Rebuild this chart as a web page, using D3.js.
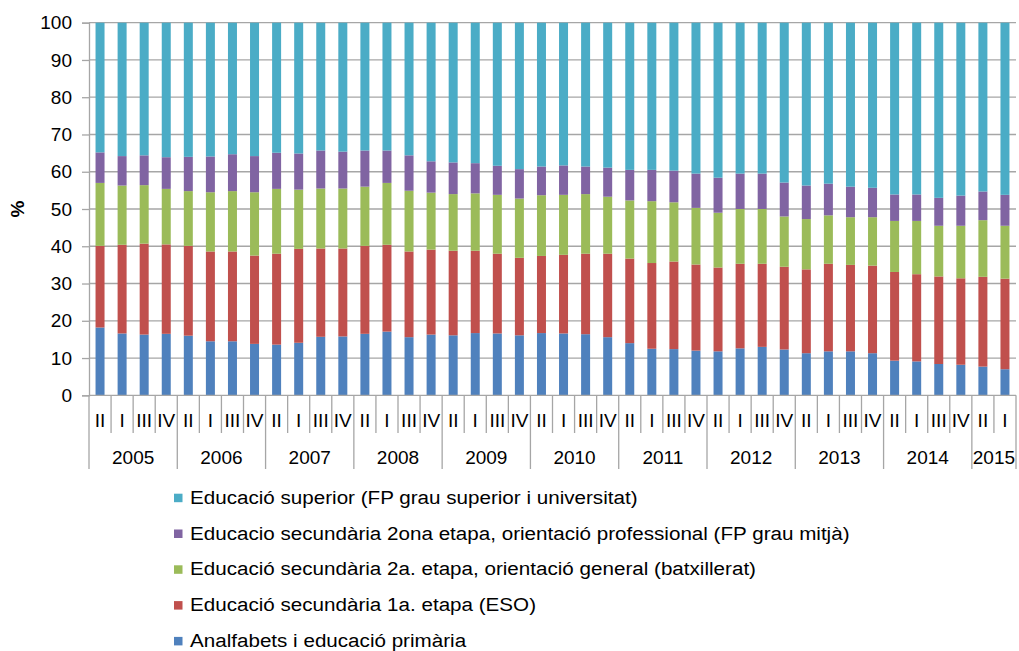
<!DOCTYPE html>
<html>
<head>
<meta charset="utf-8">
<script src="https://cdn.jsdelivr.net/npm/d3@7"></script>
<style>
  body { margin: 0; background: #fff; }
  svg { font-family: "Liberation Sans", Arial, sans-serif; }
</style>
</head>
<body>
<div id="chart"></div>
<script>
// categories (quarter labels as printed, grouped by year)
const years = ["2005","2006","2007","2008","2009","2010","2011","2012","2013","2014","2015"];
const quartersPerYear = [
  ["II","I","III","IV"],["II","I","III","IV"],["II","I","III","IV"],["II","I","III","IV"],
  ["II","I","III","IV"],["II","I","III","IV"],["II","I","III","IV"],["II","I","III","IV"],
  ["II","I","III","IV"],["II","I","III","IV"],["II","I"]
];
const yTicks = [0,10,20,30,40,50,60,70,80,90,100];

// series values (%), stacked bottom to top
const primaria = [18.2,16.6,16.3,16.5,16.0,14.5,14.5,13.8,13.6,14.1,15.7,15.8,16.5,17.1,15.6,16.3,16.1,16.7,16.6,16.1,16.7,16.6,16.4,15.6,14.0,12.5,12.4,12.0,11.8,12.6,13.0,12.3,11.3,11.8,11.8,11.3,9.3,9.1,8.4,8.2,7.7,7.0];
const eso = [21.9,23.8,24.4,24.0,24.1,24.1,24.1,23.7,24.4,25.2,23.7,23.6,23.6,23.3,23.0,22.8,22.7,22.1,21.4,20.8,20.7,21.1,21.6,22.4,22.7,23.0,23.5,23.1,22.5,22.7,22.3,22.2,22.5,23.5,23.2,23.5,23.8,23.4,23.5,23.2,24.1,24.3];
const batxillerat = [16.9,15.9,15.7,14.9,14.7,15.9,16.2,17.0,17.4,15.9,16.1,16.1,15.9,16.6,16.3,15.3,15.2,15.4,15.8,15.9,16.3,16.1,16.0,15.3,15.6,16.6,15.9,15.2,14.7,14.7,14.7,13.5,13.5,13.0,12.8,13.0,13.7,14.3,13.6,14.1,15.2,14.2];
const fpMitja = [8.2,7.9,8.0,8.5,9.2,9.6,9.9,9.7,9.7,9.7,10.2,9.9,9.7,8.7,9.5,8.4,8.5,8.1,7.8,7.9,7.7,7.9,7.4,7.8,8.2,8.4,8.5,9.2,9.4,9.5,9.5,9.1,9.0,8.5,8.2,7.9,7.1,7.1,7.5,8.1,7.7,8.3];
const superior = [34.8,35.8,35.6,36.1,36.0,35.9,35.3,35.8,34.9,35.1,34.3,34.6,34.3,34.3,35.6,37.2,37.5,37.7,38.4,39.3,38.6,38.3,38.6,38.9,39.5,39.5,39.7,40.5,41.6,40.5,40.5,42.9,43.7,43.2,44.0,44.3,46.1,46.1,47.0,46.4,45.3,46.2];

const seriesNames = [
  "Analfabets i educació primària",
  "Educació secundària 1a. etapa (ESO)",
  "Educació secundària 2a. etapa, orientació general (batxillerat)",
  "Educacio secundària 2ona etapa, orientació professional (FP grau mitjà)",
  "Educació superior (FP grau superior i universitat)"
];
const seriesColors = ["#4F81BD","#C0504D","#9BBB59","#8064A2","#4BACC6"];

// build rows for d3.stack
const cats = [];
years.forEach((y, yi) => quartersPerYear[yi].forEach(q => cats.push({year: y, q: q, id: y + "-" + q})));
const seriesData = [primaria, eso, batxillerat, fpMitja, superior];
const rows = cats.map((c, i) => {
  let r = {id: c.id};
  seriesData.forEach((s, k) => { r["s" + k] = s[i]; });
  return r;
});
const keys = seriesData.map((s, k) => "s" + k);

var W = 1019, H = 651;
var plot = {left: 89, right: 1016, top: 22.7, bottom: 395.3};

const svg = d3.select("#chart").append("svg")
  .attr("width", W).attr("height", H);

var x = d3.scaleBand()
  .domain(cats.map(d => d.id))
  .range([plot.left, plot.right])
  .paddingInner(0).paddingOuter(0);
var y = d3.scaleLinear()
  .domain([0, 100])
  .range([plot.bottom, plot.top]);

const gridColor = "#a6a6a6";

// gridlines
svg.append("g").selectAll("line")
  .data(yTicks.filter(t => t > 0))
  .enter().append("line")
  .attr("x1", plot.left).attr("x2", plot.right)
  .attr("y1", d => y(d)).attr("y2", d => y(d))
  .attr("stroke", gridColor).attr("stroke-width", 1.3);

// Y axis
const yAxis = svg.append("g")
  .attr("transform", `translate(${plot.left},0)`)
  .call(d3.axisLeft(y).tickValues(yTicks).tickSize(7).tickPadding(10).tickFormat(d3.format("d")));
yAxis.select(".domain").attr("stroke", gridColor).attr("stroke-width", 1.3);
yAxis.selectAll(".tick line").attr("stroke", gridColor).attr("stroke-width", 1.3);
yAxis.selectAll(".tick text").attr("font-size", 19).attr("fill", "#000")
  .attr("font-family", "'Liberation Sans', Arial, sans-serif");

svg.append("text")
  .attr("transform", `translate(24,${(plot.top + plot.bottom) / 2}) rotate(-90)`)
  .attr("text-anchor", "middle")
  .attr("font-size", 19).attr("font-weight", "bold")
  .text("%");

// bars
const stacked = d3.stack().keys(keys)(rows);
const barW = 9;
svg.append("g").selectAll("g")
  .data(stacked)
  .enter().append("g")
  .attr("fill", (d, i) => seriesColors[i])
  .selectAll("rect")
  .data(d => d)
  .enter().append("rect")
  .attr("x", d => x(d.data.id) + (x.bandwidth() - barW) / 2)
  .attr("y", d => y(d[1]))
  .attr("width", barW)
  .attr("height", d => y(d[0]) - y(d[1]));

// X axis, two level category labels
const xg = svg.append("g");
xg.append("line")
  .attr("x1", plot.left).attr("x2", plot.right)
  .attr("y1", plot.bottom).attr("y2", plot.bottom)
  .attr("stroke", gridColor).attr("stroke-width", 1.3);

// year boundaries
let yearStart = [], idx = 0;
quartersPerYear.forEach(qs => { yearStart.push(idx); idx += qs.length; });

cats.forEach((c, i) => {
  let xb = x(c.id);
  let isYearEdge = yearStart.includes(i);
  xg.append("line")
    .attr("x1", xb).attr("x2", xb)
    .attr("y1", plot.bottom).attr("y2", isYearEdge ? 469 : 433)
    .attr("stroke", gridColor).attr("stroke-width", 1.3);
  xg.append("text")
    .attr("x", xb + x.bandwidth() / 2)
    .attr("y", 427)
    .attr("text-anchor", "middle")
    .attr("font-size", 19)
    .text(c.q);
});
xg.append("line")
  .attr("x1", plot.right).attr("x2", plot.right)
  .attr("y1", plot.bottom).attr("y2", 469)
  .attr("stroke", gridColor).attr("stroke-width", 1.3);

years.forEach((yr, yi) => {
  let first = cats[yearStart[yi]].id;
  let n = quartersPerYear[yi].length;
  let cx = x(first) + n * x.bandwidth() / 2;
  xg.append("text")
    .attr("x", cx).attr("y", 464)
    .attr("text-anchor", "middle")
    .attr("font-size", 19)
    .text(yr);
});

// legend (top to bottom: reverse of stack order)
const legendOrder = [4, 3, 2, 1, 0];
const lg = svg.append("g");
legendOrder.forEach((k, i) => {
  let base = 503.7 + i * 35.8;
  lg.append("rect")
    .attr("x", 174).attr("y", base - 10)
    .attr("width", 8.5).attr("height", 8.5)
    .attr("fill", seriesColors[k]);
  let t = lg.append("text")
    .attr("x", 190).attr("y", base)
    .attr("font-size", 18)
    .text(seriesNames[k]);
  // reference text is drawn a bit wider than the font's natural width
  let natural = t.node().getComputedTextLength();
  t.attr("textLength", natural * 1.145).attr("lengthAdjust", "spacingAndGlyphs");
});
</script>
</body>
</html>
